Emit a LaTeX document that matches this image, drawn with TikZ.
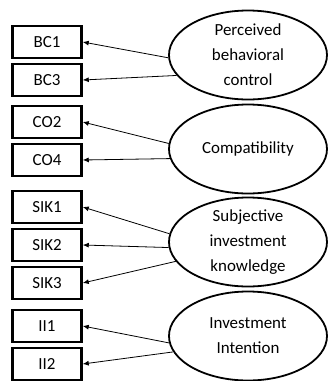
\documentclass[tikz,border=0pt]{standalone}
\usepackage{fontspec}
\setmainfont{Carlito}
\usetikzlibrary{arrows.meta,positioning,shapes.geometric}
\tikzset{
  item/.style={draw,line width=2.5bp,minimum width=69bp,minimum height=32bp,inner sep=0pt,
    font=\fontsize{17}{20}\selectfont},
  latent/.style={draw,ellipse,line width=1.8bp,minimum width=158bp,minimum height=89bp,
    inner xsep=0pt,inner ysep=-8bp,align=center,font=\fontsize{17}{25}\selectfont},
  load/.style={-{Latex[length=6bp,width=5bp]},line width=0.8bp}
}
\begin{document}
\begin{tikzpicture}[x=1bp,y=1bp,node distance=3.5bp]
  \useasboundingbox (0,0) rectangle (329,-381);
  % latent constructs
  \node[latent] (pbc) at (248,-55) {Perceived\\behavioral\\control};
  \node[latent] (co) at (248,-149) {Compatibility};
  \node[latent] (sik) at (248,-242) {Subjective\\investment\\knowledge};
  \node[latent] (ii) at (248,-336) {Investment\\Intention};
  % indicators
  \node[item] (bc1) at (47,-42) {BC1};
  \node[item,below=of bc1] (bc3) {BC3};
  \node[item] (co2) at (47,-122) {CO2};
  \node[item,below=of co2] (co4) {CO4};
  \node[item] (sik1) at (47,-207) {SIK1};
  \node[item,below=of sik1] (sik2) {SIK2};
  \node[item,below=of sik2] (sik3) {SIK3};
  \node[item] (ii1) at (47,-326) {II1};
  \node[item,below=of ii1] (ii2) {II2};
  % loadings
  \draw[load] (pbc.182) -- (bc1.east);
  \draw[load] (pbc.196) -- (bc3.east);
  \draw[load] (co.176) -- (co2.east);
  \draw[load] (co.187) -- (co4.east);
  \draw[load] (sik.174) -- (sik1.east);
  \draw[load] (sik.184) -- (sik2.east);
  \draw[load] (sik.195) -- (sik3.east);
  \draw[load] (ii.185) -- (ii1.east);
  \draw[load] (ii.192) -- (ii2.east);
\end{tikzpicture}
\end{document}
